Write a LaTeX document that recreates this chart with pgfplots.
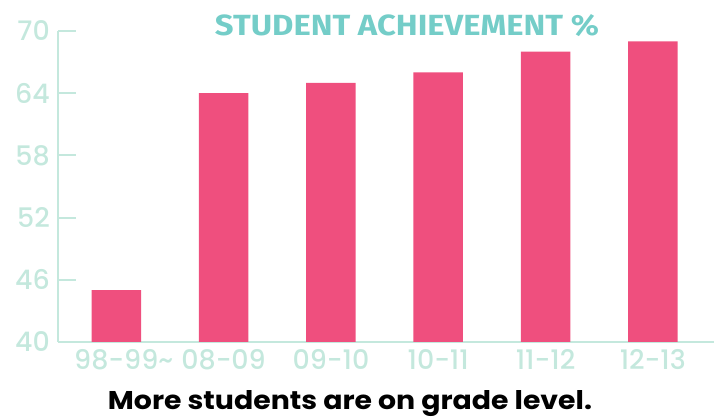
\documentclass[border=0pt]{standalone}
\usepackage{pgfplots}
\pgfplotsset{compat=1.18}
\usepackage{fontspec}
\setmainfont{Poppins}
\newfontfamily\tickfont{Poppins}[UprightFont=* Medium]
\newfontfamily\titlefont{Fira Sans}
\definecolor{barpink}{HTML}{EF4F7E}
\definecolor{mint}{HTML}{C4E8DD}
\definecolor{teal}{HTML}{74CDC8}
\begin{document}
\begin{tikzpicture}
\useasboundingbox (0,0) rectangle (715bp,418bp);
\begin{axis}[
  at={(58bp,76bp)}, anchor=south west,
  scale only axis, width=656bp, height=311bp,
  xmin=-0.543, xmax=5.57, ymin=40, ymax=70,
  axis x line=bottom, axis y line=left,
  axis line style={color=mint, line width=2bp, -},
  ytick={40,46,52,58,64,70},
  xtick={0,1,2,3,4,5},
  xticklabels={98-99\rlap{\textasciitilde}, 08-09, 09-10, 10-11, 11-12, 12-13},
  tick align=inside,
  major tick length=18bp,
  ytick style={color=mint, line width=2bp},
  xtick style={draw=none},
  /pgf/number format/assume math mode=true,
  tick label style={font=\tickfont\fontsize{27}{27}\selectfont, text=mint},
  yticklabel style={inner sep=0pt, xshift=-8bp},
  xticklabel style={inner sep=0pt, yshift=11bp},
  ybar, bar width=49.5bp,
  clip=false,
]
\addplot[fill=barpink, draw=none, bar shift=0pt] coordinates {(0,45) (1,64) (2,65) (3,66) (4,68) (5,69)};
\end{axis}
\node[text=teal, inner sep=0pt] at (407bp,392.5bp) {\resizebox{384bp}{21bp}{\titlefont\bfseries STUDENT ACHIEVEMENT \%}};
\node[anchor=base, inner sep=0pt] at (350bp,8bp) {\resizebox{484bp}{19bp}{\bfseries More students are on grade level.}};
\end{tikzpicture}
\end{document}
